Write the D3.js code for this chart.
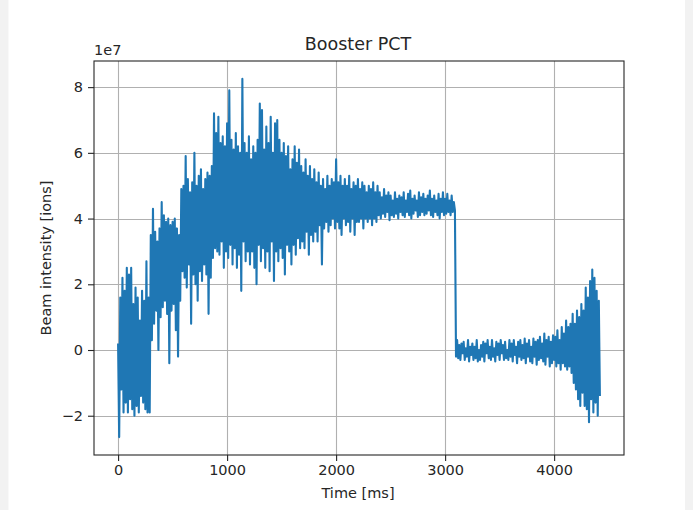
<!DOCTYPE html>
<html>
<head>
<meta charset="utf-8">
<script src="https://cdn.jsdelivr.net/npm/d3@7"></script>
<style>
  html, body { margin: 0; padding: 0; background: #f2f2f2; }
  svg { display: block; }
  text { font-family: "DejaVu Sans", sans-serif; fill: #262626; }
</style>
</head>
<body>
<svg id="chart" width="693" height="510"></svg>
<script>
// Booster PCT trace: beam intensity (in units of 1e7 ions), one sample every 10 ms.
const timeStepMs = 10;
const beamIntensity = [
  // 0 - 290 ms
  0.2, -2.65, 1.6, -1.2, 2.2, -1.9, 1.8, -1.6, 2.5, -1.9,
  2.3, -1.5, 2.5, -1.8, 1.4, -2.0, 1.9, -1.7, 1.6, -1.9,
  0.9, -1.4, 1.8, -1.6, 1.5, -1.8, 2.7, -1.9, 1.6, -1.9,
  // 300 - 590 ms
  3.5, 0.3, 4.3, 0.8, 3.6, 1.2, 3.3, 0.0, 3.7, 1.0,
  4.5, 1.3, 4.1, 1.5, 3.9, 1.1, 4.0, -0.4, 3.8, 1.2,
  3.9, 1.4, 4.0, 0.6, 3.7, -0.2, 3.5, 1.5, 4.9, 2.4,
  // 600 - 890 ms
  5.0, 2.2, 5.9, 1.9, 5.2, 2.6, 4.8, 0.8, 5.1, 2.3,
  6.0, 2.0, 5.0, 1.5, 5.3, 2.4, 5.5, 2.1, 4.9, 2.6,
  5.2, 2.3, 5.4, 1.1, 5.3, 2.2, 5.6, 2.8, 7.2, 3.1,
  // 900 - 1190 ms
  6.6, 3.0, 7.1, 2.9, 6.3, 3.3, 6.5, 2.5, 6.2, 3.0,
  6.9, 2.8, 7.9, 3.2, 6.4, 2.6, 6.1, 3.1, 6.6, 2.5,
  6.2, 2.9, 6.0, 1.8, 8.25, 3.3, 6.3, 2.7, 6.0, 3.0,
  // 1200 - 1490 ms
  6.5, 2.6, 5.8, 3.0, 6.2, 2.5, 6.0, 2.0, 6.4, 3.2,
  7.5, 2.7, 7.3, 3.1, 6.1, 2.5, 6.8, 3.0, 6.3, 2.4,
  7.1, 3.3, 6.0, 2.1, 6.9, 3.0, 7.0, 2.7, 6.4, 3.1,
  // 1500 - 1790 ms
  6.0, 2.8, 6.3, 2.3, 5.9, 3.2, 6.2, 3.0, 5.5, 2.6,
  5.8, 3.2, 6.2, 2.9, 5.7, 3.4, 6.1, 3.1, 5.6, 3.3,
  5.4, 3.1, 5.8, 3.6, 5.3, 2.9, 5.6, 3.5, 5.2, 3.3,
  // 1800 - 2090 ms
  5.5, 3.6, 5.1, 3.3, 5.4, 3.8, 5.0, 2.6, 5.2, 3.7,
  4.9, 3.9, 5.3, 3.6, 5.0, 3.8, 5.2, 4.0, 5.1, 3.7,
  5.8, 3.9, 5.1, 3.7, 5.3, 3.5, 5.0, 4.0, 5.2, 3.8,
  // 2100 - 2390 ms
  5.0, 3.9, 5.3, 3.6, 4.9, 4.0, 5.1, 3.5, 5.0, 3.9,
  5.2, 3.9, 4.9, 4.0, 5.1, 3.7, 5.0, 4.0, 4.8, 3.9,
  5.0, 4.0, 4.9, 3.8, 5.1, 4.0, 4.8, 3.9, 5.0, 4.1,
  // 2400 - 2690 ms
  4.8, 4.0, 4.65, 4.15, 4.9, 4.05, 4.7, 4.2, 4.8, 3.95,
  4.7, 4.1, 4.55, 4.05, 4.8, 4.15, 4.6, 4.0, 4.7, 4.2,
  4.65, 4.1, 4.8, 4.05, 4.55, 4.2, 4.75, 4.1, 4.85, 4.0,
  // 2700 - 2990 ms
  4.6, 4.15, 4.7, 4.25, 4.55, 4.05, 4.8, 4.1, 4.65, 4.2,
  4.75, 4.1, 4.6, 4.15, 4.7, 4.25, 4.85, 4.1, 4.6, 4.05,
  4.7, 4.2, 4.55, 4.1, 4.75, 4.0, 4.6, 4.2, 4.8, 4.1,
  // 3000 - 3290 ms (extraction at ~3100 ms)
  4.6, 4.15, 4.75, 4.2, 4.55, 4.1, 4.7, 4.2, 4.5, 4.25,
  -0.2, 0.3, -0.25, 0.15, -0.3, 0.2, -0.1, 0.25, -0.3, 0.05,
  -0.2, 0.3, -0.35, 0.1, -0.15, 0.2, -0.3, 0.1, -0.25, 0.3,
  // 3300 - 3590 ms
  -0.35, 0.0, -0.3, 0.15, -0.2, 0.25, -0.35, 0.2, -0.1, 0.3,
  -0.25, 0.1, -0.3, 0.3, -0.2, 0.05, -0.35, 0.25, -0.15, 0.2,
  -0.3, 0.3, -0.1, 0.15, -0.3, 0.25, -0.25, 0.0, -0.3, 0.3,
  // 3600 - 3890 ms
  -0.2, 0.2, -0.35, 0.3, -0.15, 0.1, -0.4, 0.25, -0.2, 0.3,
  -0.3, 0.15, -0.25, 0.35, -0.4, 0.2, -0.2, 0.3, -0.35, 0.1,
  -0.4, 0.35, -0.2, 0.25, -0.45, 0.3, -0.3, 0.4, -0.25, 0.2,
  // 3900 - 4190 ms
  -0.35, 0.5, -0.45, 0.3, -0.2, 0.4, -0.5, 0.25, -0.4, 0.45,
  -0.3, 0.4, -0.5, 0.6, -0.4, 0.3, -0.6, 0.7, -0.4, 0.5,
  -0.5, 0.9, -0.6, 0.7, -0.5, 0.8, -0.7, 1.1, -1.0, 0.8,
  // 4200 - 4420 ms
  -1.2, 1.2, -1.5, 1.0, -1.7, 1.4, -1.3, 1.2, -1.7, 1.9,
  -1.8, 1.6, -2.2, 2.1, -1.5, 2.45, -1.9, 2.2, -1.6, 1.8,
  -2.0, 1.5, -1.4
];

const xTicks = [0, 1000, 2000, 3000, 4000];
const yTicks = [-2, 0, 2, 4, 6, 8];
const titleText = "Booster PCT";
const xLabel = "Time [ms]";
const yLabel = "Beam intensity [ions]";
const offsetLabel = "1e7";

const points = beamIntensity.map((v, i) => ({ t: i * timeStepMs, v }));

const svg = d3.select("#chart");

// white figure card
svg.append("rect")
  .attr("x", 8.5).attr("y", 0)
  .attr("width", 676.5).attr("height", 510)
  .attr("fill", "#ffffff");

const plot = { left: 94, right: 624, top: 61, bottom: 455 };

// axis limits padded by 5% of the data span on each side
function padded(ext) {
  const m = (ext[1] - ext[0]) * 0.05;
  return [ext[0] - m, ext[1] + m];
}
const x = d3.scaleLinear()
  .domain(padded(d3.extent(points, d => d.t)))
  .range([plot.left, plot.right]);
const y = d3.scaleLinear()
  .domain(padded(d3.extent(points, d => d.v)))
  .range([plot.bottom, plot.top]);

const fmt = d => (d < 0 ? "\u2212" + Math.abs(d) : String(d));

// grid lines
const grid = svg.append("g");
grid.selectAll("line.gx").data(xTicks).join("line")
  .attr("x1", d => Math.round(x(d)) + 0.5).attr("x2", d => Math.round(x(d)) + 0.5)
  .attr("y1", plot.top).attr("y2", plot.bottom)
  .attr("stroke", "#b0b0b0").attr("stroke-width", 1.1);
grid.selectAll("line.gy").data(yTicks).join("line")
  .attr("y1", d => Math.round(y(d)) + 0.5).attr("y2", d => Math.round(y(d)) + 0.5)
  .attr("x1", plot.left).attr("x2", plot.right)
  .attr("stroke", "#b0b0b0").attr("stroke-width", 1.1);

// signal trace
svg.append("defs").append("clipPath").attr("id", "clip")
  .append("rect")
  .attr("x", plot.left).attr("y", plot.top)
  .attr("width", plot.right - plot.left).attr("height", plot.bottom - plot.top);

svg.append("path")
  .datum(points)
  .attr("clip-path", "url(#clip)")
  .attr("fill", "none")
  .attr("stroke", "#1f77b4")
  .attr("stroke-width", 2.1)
  .attr("stroke-linejoin", "round")
  .attr("d", d3.line().x(d => x(d.t)).y(d => y(d.v)));

// axes
const xAxis = d3.axisBottom(x).tickValues(xTicks).tickFormat(fmt).tickSize(6).tickPadding(4);
const yAxis = d3.axisLeft(y).tickValues(yTicks).tickFormat(fmt).tickSize(6).tickPadding(5);

const gx = svg.append("g").attr("transform", `translate(0,${plot.bottom})`).call(xAxis);
const gy = svg.append("g").attr("transform", `translate(${plot.left},0)`).call(yAxis);
[gx, gy].forEach(g => {
  g.select(".domain").remove();
  g.selectAll(".tick line").attr("stroke", "#262626").attr("stroke-width", 1.1);
  g.selectAll(".tick text")
    .attr("font-family", "DejaVu Sans, sans-serif")
    .attr("font-size", 14.5)
    .attr("fill", "#262626");
});

// axes frame
svg.append("rect")
  .attr("x", plot.left).attr("y", plot.top)
  .attr("width", plot.right - plot.left).attr("height", plot.bottom - plot.top)
  .attr("fill", "none").attr("stroke", "#262626").attr("stroke-width", 1.1);

// labels
svg.append("text")
  .attr("x", 358).attr("y", 50)
  .attr("text-anchor", "middle").attr("font-size", 17.5)
  .text(titleText);

svg.append("text")
  .attr("x", 358).attr("y", 498)
  .attr("text-anchor", "middle").attr("font-size", 14.5)
  .text(xLabel);

svg.append("text")
  .attr("transform", `translate(51,${(plot.top + plot.bottom) / 2}) rotate(-90)`)
  .attr("text-anchor", "middle").attr("font-size", 14.5)
  .text(yLabel);

svg.append("text")
  .attr("x", plot.left).attr("y", 55)
  .attr("text-anchor", "start").attr("font-size", 14.5)
  .text(offsetLabel);
</script>
</body>
</html>
